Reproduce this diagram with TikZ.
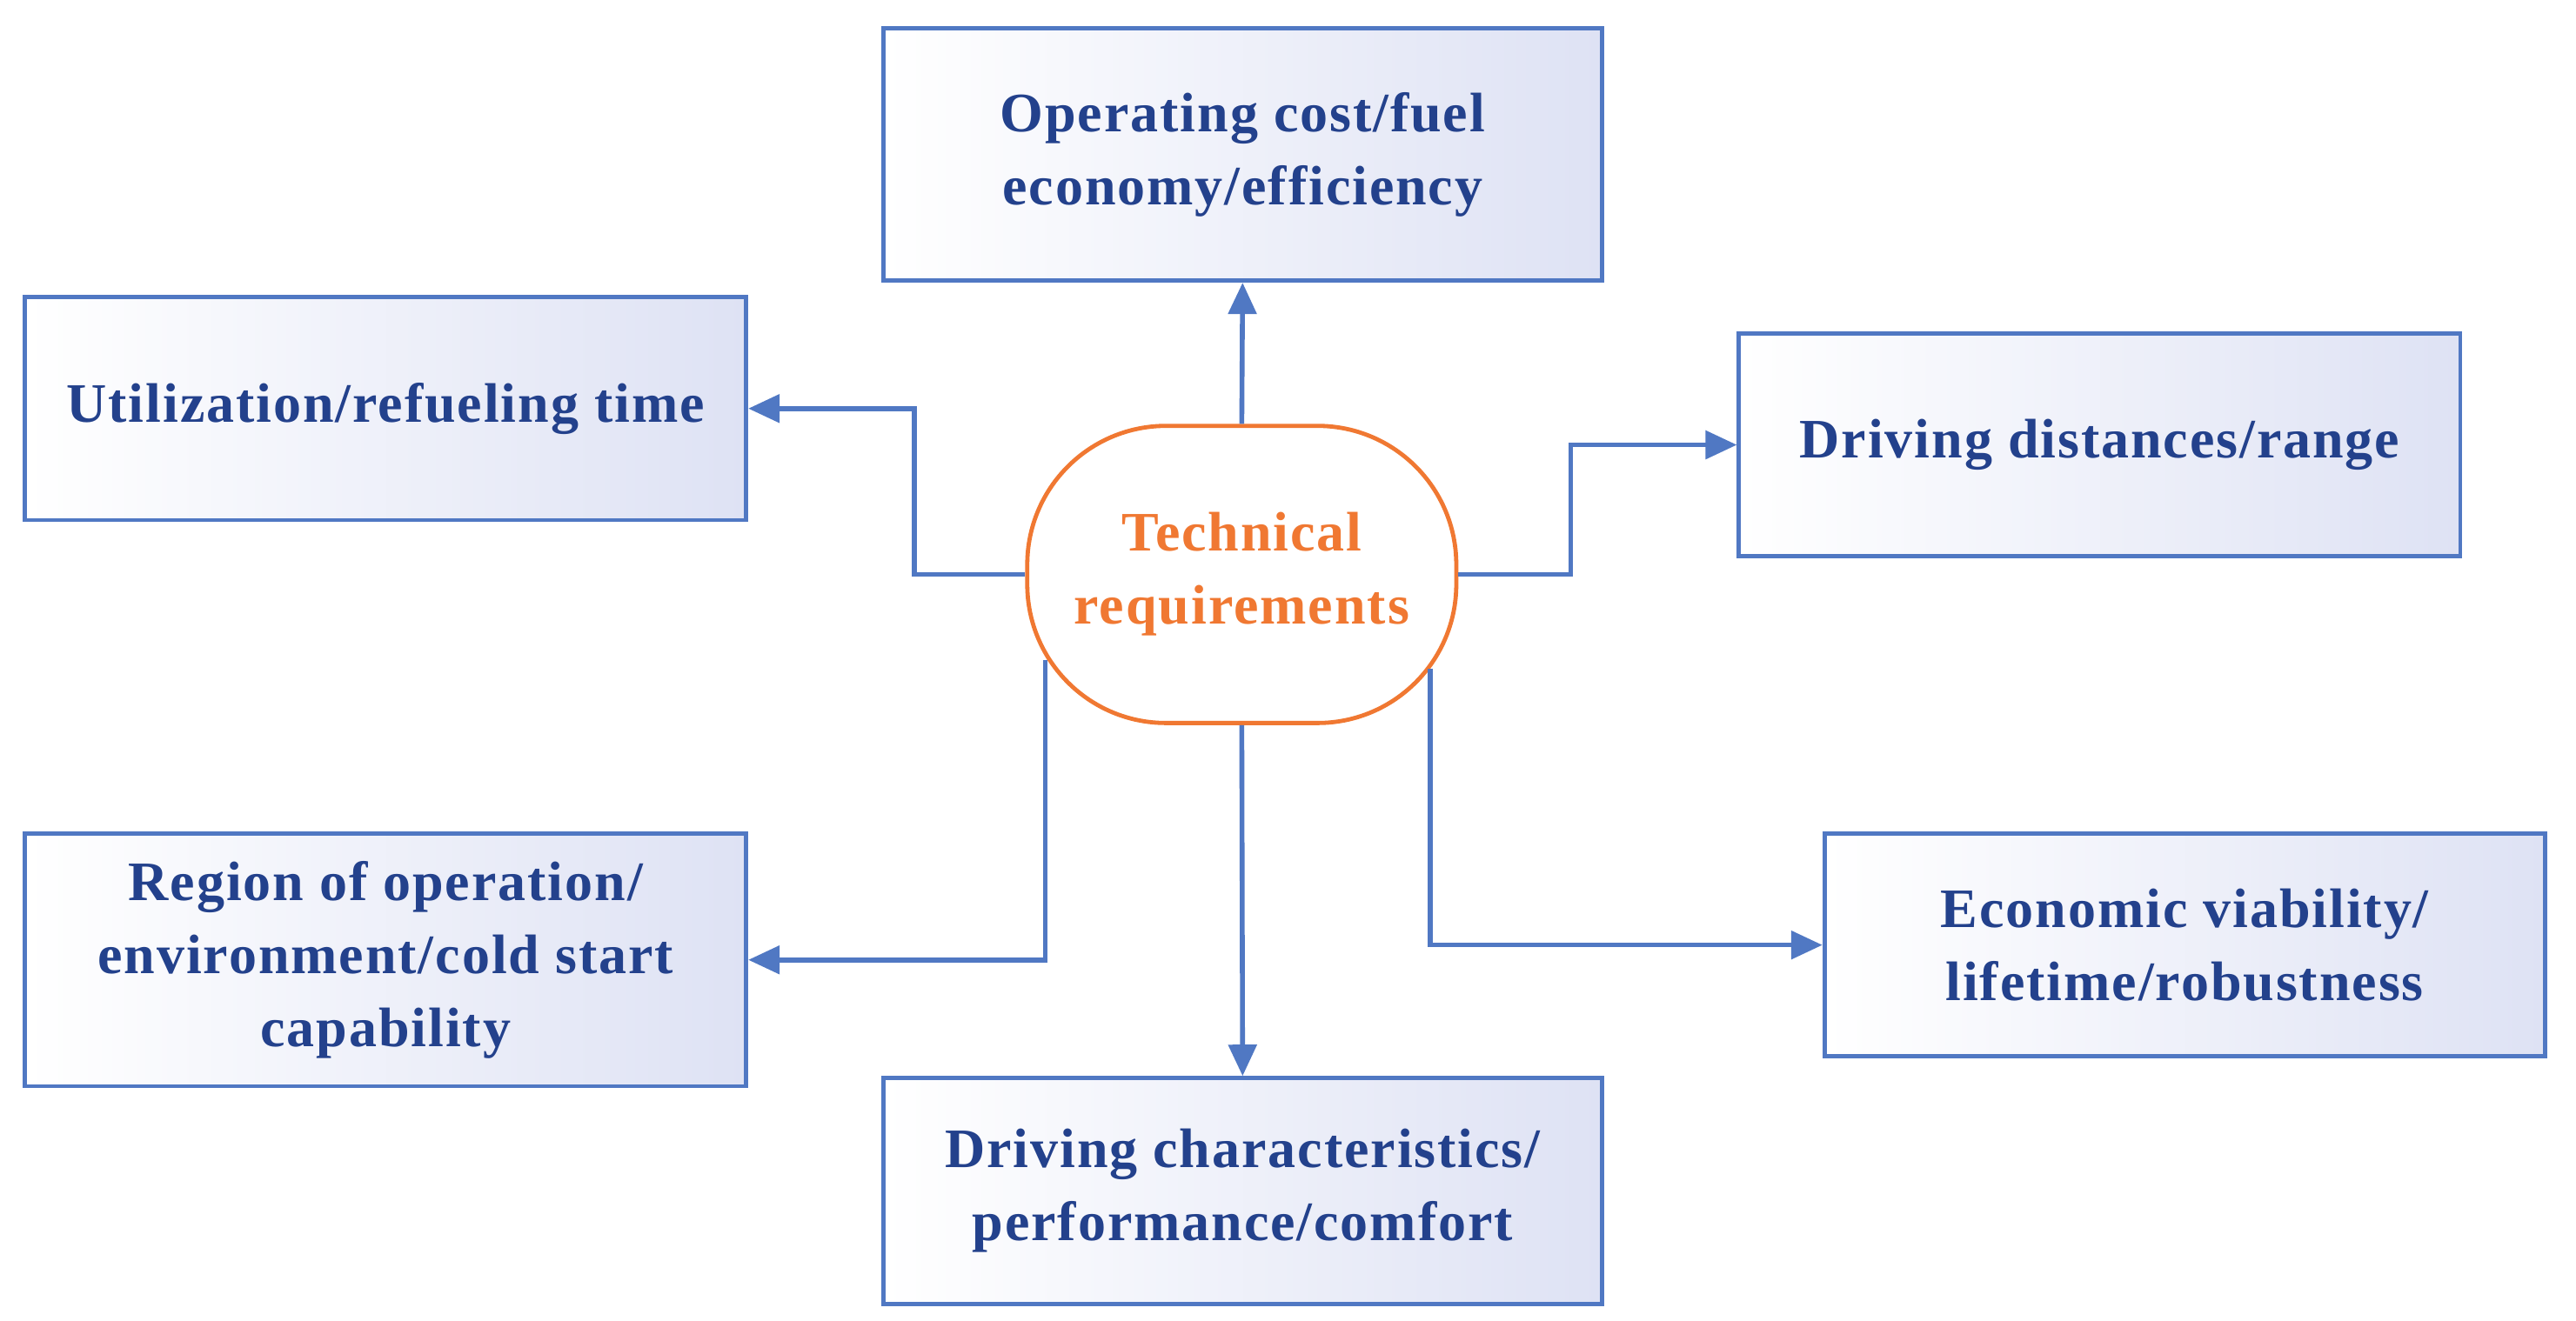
\documentclass[tikz,border=0pt]{standalone}
\usepackage{fontspec}
\setmainfont{Liberation Serif}
\usetikzlibrary{arrows.meta}
\definecolor{bord}{RGB}{80,120,195}
\definecolor{txt}{RGB}{35,65,140}
\definecolor{lav}{RGB}{222,226,244}
\definecolor{org}{RGB}{240,120,50}
\begin{document}
\begin{tikzpicture}[x=1cm/60,y=-1cm/60,
  box/.style={draw=bord,line width=1.2pt,left color=white,right color=lav,
    text=txt,font=\fontsize{16}{21}\selectfont\bfseries\addfontfeatures{LetterSpace=3},align=center,inner sep=2pt},
  arr/.style={draw=bord,line width=1.4pt,-{Triangle[length=9pt,width=8pt]}}]
\useasboundingbox (0,0) rectangle (1560,800);
\node[box,minimum width=7.25cm,minimum height=2.55cm] (top) at (752.5,93.5) {Operating cost/fuel\\economy/efficiency};
\node[box,minimum width=7.28cm,minimum height=2.25cm] (util) at (233.5,247.5) {Utilization/refueling time};
\node[box,minimum width=7.28cm,minimum height=2.25cm] (dist) at (1271.5,269.5) {Driving distances/range};
\node[box,minimum width=7.28cm,minimum height=2.55cm] (reg) at (233.5,581.5) {Region of operation/\\environment/cold start\\capability};
\node[box,minimum width=7.27cm,minimum height=2.25cm] (econ) at (1323,572.5) {Economic viability/\\lifetime/robustness};
\node[box,minimum width=7.25cm,minimum height=2.28cm] (drv) at (752.5,721.5) {Driving characteristics/\\performance/comfort};
\node[draw=org,line width=1.2pt,rounded corners=1.4cm,fill=white,text=org,
  font=\fontsize{16}{21}\selectfont\bfseries\addfontfeatures{LetterSpace=3},align=center,minimum width=4.33cm,minimum height=3.0cm] (c) at (752,348) {Technical\\requirements};
\coordinate (ll) at (633,400);
\coordinate (lr) at (866,405);
\draw[arr] (c.north) -- (top.south);
\draw[arr] (c.south) -- (drv.north);
\draw[arr] (c.west) -- ++(-67,0) |- (util.east);
\draw[arr] (c.east) -- ++(68,0) |- (dist.west);
\draw[arr] (ll) |- (reg.east);
\draw[arr] (lr) |- (econ.west);
\end{tikzpicture}
\end{document}
